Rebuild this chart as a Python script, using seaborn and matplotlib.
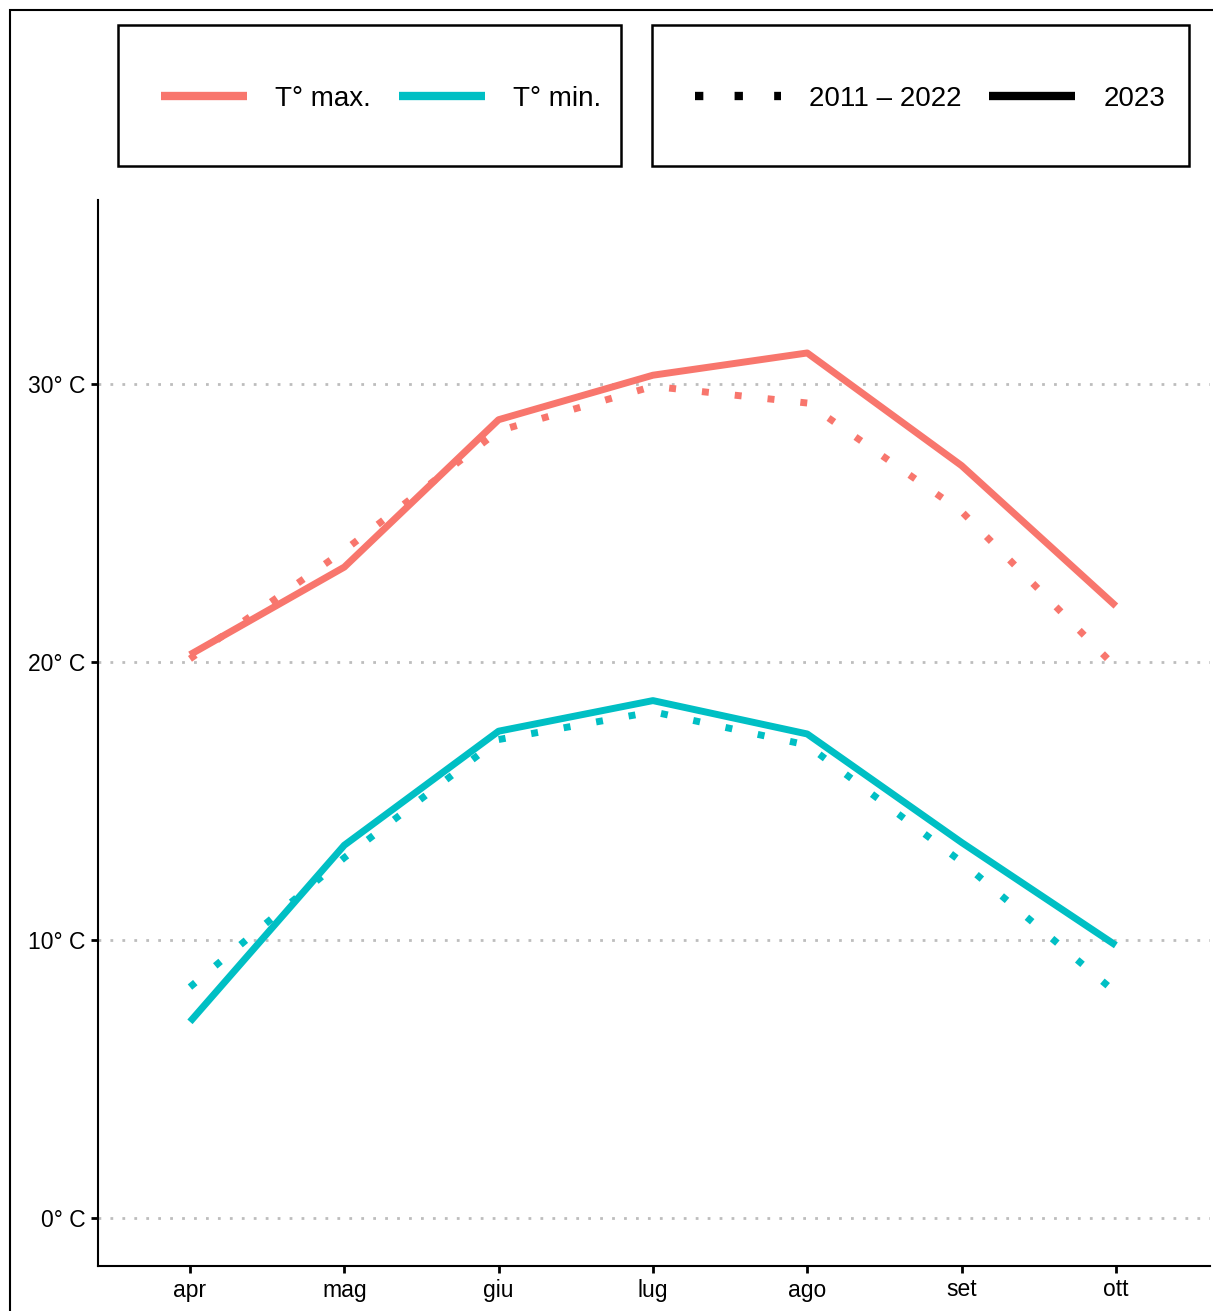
import pandas as pd
import matplotlib.pyplot as plt
import seaborn as sns
from matplotlib.lines import Line2D
from matplotlib.patches import Rectangle

months = ["apr", "mag", "giu", "lug", "ago", "set", "ott"]
tmax_2023 = [20.25, 23.4, 28.7, 30.3, 31.1, 27.05, 22.0]
tmax_ref = [20.1, 24.0, 28.3, 29.9, 29.3, 25.4, 19.8]
tmin_2023 = [7.05, 13.4, 17.5, 18.6, 17.4, 13.5, 9.8]
tmin_ref = [8.3, 12.95, 17.2, 18.2, 17.0, 12.8, 8.1]

var_labels = ["T° max.", "T° min."]
period_labels = ["2011 – 2022", "2023"]
colors = {"T° max.": "#F8766D", "T° min.": "#00BFC4"}
yticks = [0, 10, 20, 30]
ytick_labels = ["0° C", "10° C", "20° C", "30° C"]

rows = []
for var, period, vals in [("T° max.", "2011 – 2022", tmax_ref),
                          ("T° max.", "2023", tmax_2023),
                          ("T° min.", "2011 – 2022", tmin_ref),
                          ("T° min.", "2023", tmin_2023)]:
    for i, v in enumerate(vals):
        rows.append({"mese": i, "temp": v, "var": var, "periodo": period})
df = pd.DataFrame(rows)

sns.set_style("white")
plt.rcParams["font.family"] = ["Liberation Sans", "DejaVu Sans"]
plt.rcParams["text.color"] = "black"

W, H = 1213, 1311
fig = plt.figure(figsize=(W / 100, H / 100), dpi=100)
ax = fig.add_axes([98 / W, 1 - 1266 / H, (1210 - 98) / W, (1266 - 200) / H])

sns.lineplot(data=df, x="mese", y="temp", hue="var", style="periodo",
             palette=colors, dashes={"2011 – 2022": (1, 3.75), "2023": ""},
             linewidth=5, legend=False, ax=ax)
for ln in ax.get_lines():
    ln.set_dash_capstyle("butt")
    ln.set_solid_capstyle("butt")

ax.set_xlim(-0.596, 6.61)
ax.set_ylim(-1.73, 36.6)
ax.set_xticks(range(len(months)))
ax.set_xticklabels(months)
ax.set_yticks(yticks)
ax.set_yticklabels(ytick_labels)
ax.set_xlabel("")
ax.set_ylabel("")
for y in yticks:
    ax.axhline(y, color="#BDBDBD", lw=2, ls=(0, (1, 3.3)), zorder=0)

sns.despine(ax=ax)
for s in ["left", "bottom"]:
    ax.spines[s].set_color("black")
    ax.spines[s].set_linewidth(1.5)
ax.tick_params(axis="both", direction="out", length=5, width=2, color="black",
               labelsize=16.5, labelcolor="black", pad=4, left=True, bottom=True)

# legend frames drawn by hand, legends themselves without frame
for x0, x1 in [(118, 621), (652, 1189)]:
    fig.patches.append(Rectangle((x0 / W, 1 - 166 / H), (x1 - x0) / W, 141 / H,
                                 transform=fig.transFigure, fill=False,
                                 edgecolor="black", lw=1.8))

h1 = [Line2D([], [], color=colors[v], lw=6, solid_capstyle="butt") for v in var_labels]
h2 = [Line2D([], [], color="black", lw=6, ls=(0, (1, 3.75)), dash_capstyle="butt"),
      Line2D([], [], color="black", lw=6, solid_capstyle="butt")]
common = dict(ncol=2, fontsize=20, frameon=False, borderpad=0, handlelength=3.1,
              handletextpad=1.0, columnspacing=1.0, borderaxespad=0,
              labelcolor="black")
fig.legend(h1, var_labels, loc="center", bbox_to_anchor=(381 / W, 1 - 99 / H), **common)
fig.legend(h2, period_labels, loc="center", bbox_to_anchor=(930 / W, 1 - 99 / H), **common)

fig.patches.append(Rectangle((10 / W, -0.5), 2, 1.5 - 10 / H, transform=fig.transFigure,
                             fill=False, edgecolor="black", lw=1.5))

fig.savefig("out.png", dpi=100)
